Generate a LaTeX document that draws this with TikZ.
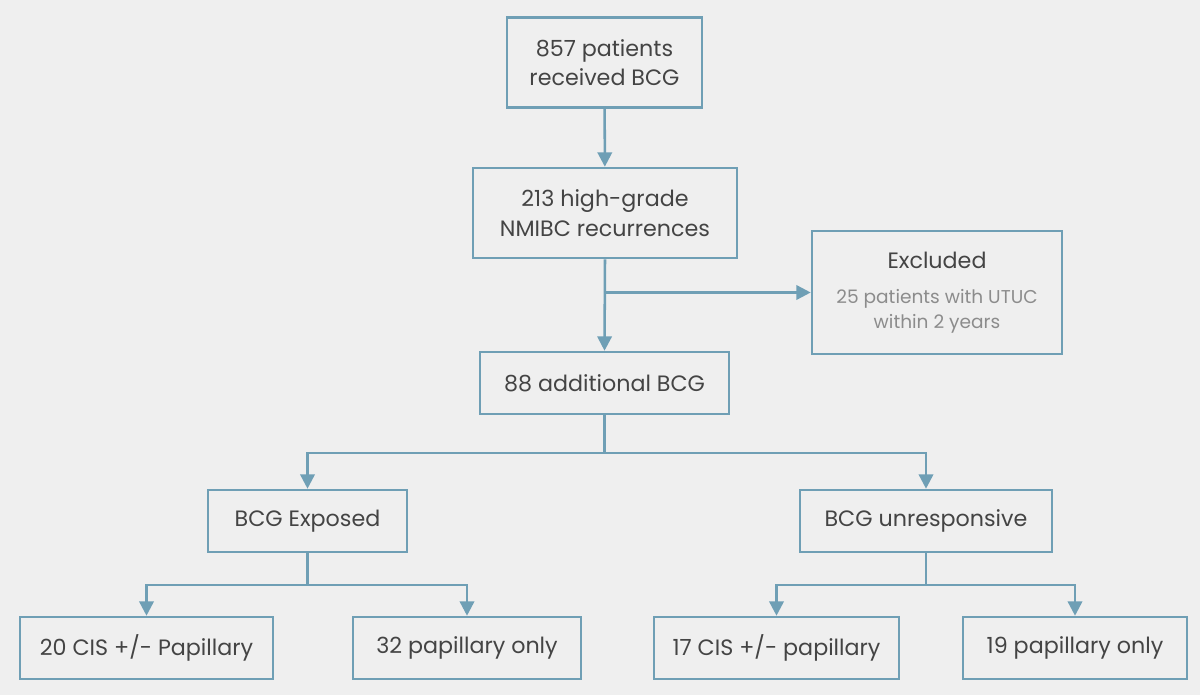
\documentclass[tikz,border=0pt]{standalone}
\usepackage{fontspec}
\setmainfont{Poppins}
\usetikzlibrary{arrows.meta,positioning,calc}
\definecolor{flowblue}{RGB}{111,159,181}
\definecolor{bgrey}{RGB}{239,239,239}
\definecolor{txtgrey}{RGB}{68,68,68}
\definecolor{subgrey}{RGB}{140,140,140}

\begin{document}
\begin{tikzpicture}[x=0.025cm,y=-0.025cm,
  every node/.style={font=\fontsize{15.8}{21}\selectfont,text=txtgrey},
  box/.style={draw=flowblue,fill=bgrey,line width=1.8pt,align=center,inner sep=0pt,minimum height=1.55cm},
  tall/.style={box,minimum height=2.25cm},
  subtxt/.style={font=\fontsize{13.2}{17.5}\selectfont,text=subgrey},
  ar/.style={-{Triangle[length=3.6mm,width=3.6mm]},flowblue,line width=1.8pt},
  ln/.style={flowblue,line width=1.8pt}]
\fill[bgrey] (0,0) rectangle (1200,695);
\node[tall,minimum width=4.875cm] (recv) at (604.5,62.5) {857 patients\\received BCG};
\node[tall,minimum width=6.6cm] (recur) at (605,213) {213 high-grade\\NMIBC recurrences};
\node[box,subtxt,minimum width=6.25cm,minimum height=3.075cm] (excl) at (937,292.5)
  {{\fontsize{15.8}{21}\selectfont\color{txtgrey}Excluded}\\[8pt]25 patients with UTUC\\within 2 years};
\node[box,minimum width=6.225cm] (addl) at (604.5,383) {88 additional BCG};
\node[box,minimum width=4.975cm] (expo) at (307.5,521) {BCG Exposed};
\node[box,minimum width=6.3cm] (unresp) at (926,521) {BCG unresponsive};
\node[box,minimum width=6.325cm] (expcis) at (146.5,648) {20 CIS +/- Papillary};
\node[box,minimum width=5.7cm] (exppap) at (467,648) {32 papillary only};
\node[box,minimum width=6.125cm] (unrcis) at (776.5,648) {17 CIS +/- papillary};
\node[box,minimum width=5.6cm] (unrpap) at (1075,648) {19 papillary only};
\coordinate (split1) at (604.5,453);
\coordinate (split2) at (307.5,585);
\coordinate (split3) at (926,585);
\draw[ar] (recv) -- (recur);
\draw[ar] (recur.south) -- (addl.north);
\draw[ar] (recur.south |- excl.west) -- (excl.west);
\draw[ln] (addl.south) -- (split1);
\draw[ar] (split1) -| (expo.north);
\draw[ar] (split1) -| (unresp.north);
\draw[ln] (expo.south) -- (split2);
\draw[ar] (split2) -| (expcis.north);
\draw[ar] (split2) -| (exppap.north);
\draw[ln] (unresp.south) -- (split3);
\draw[ar] (split3) -| (unrcis.north);
\draw[ar] (split3) -| (unrpap.north);
\end{tikzpicture}
\end{document}
